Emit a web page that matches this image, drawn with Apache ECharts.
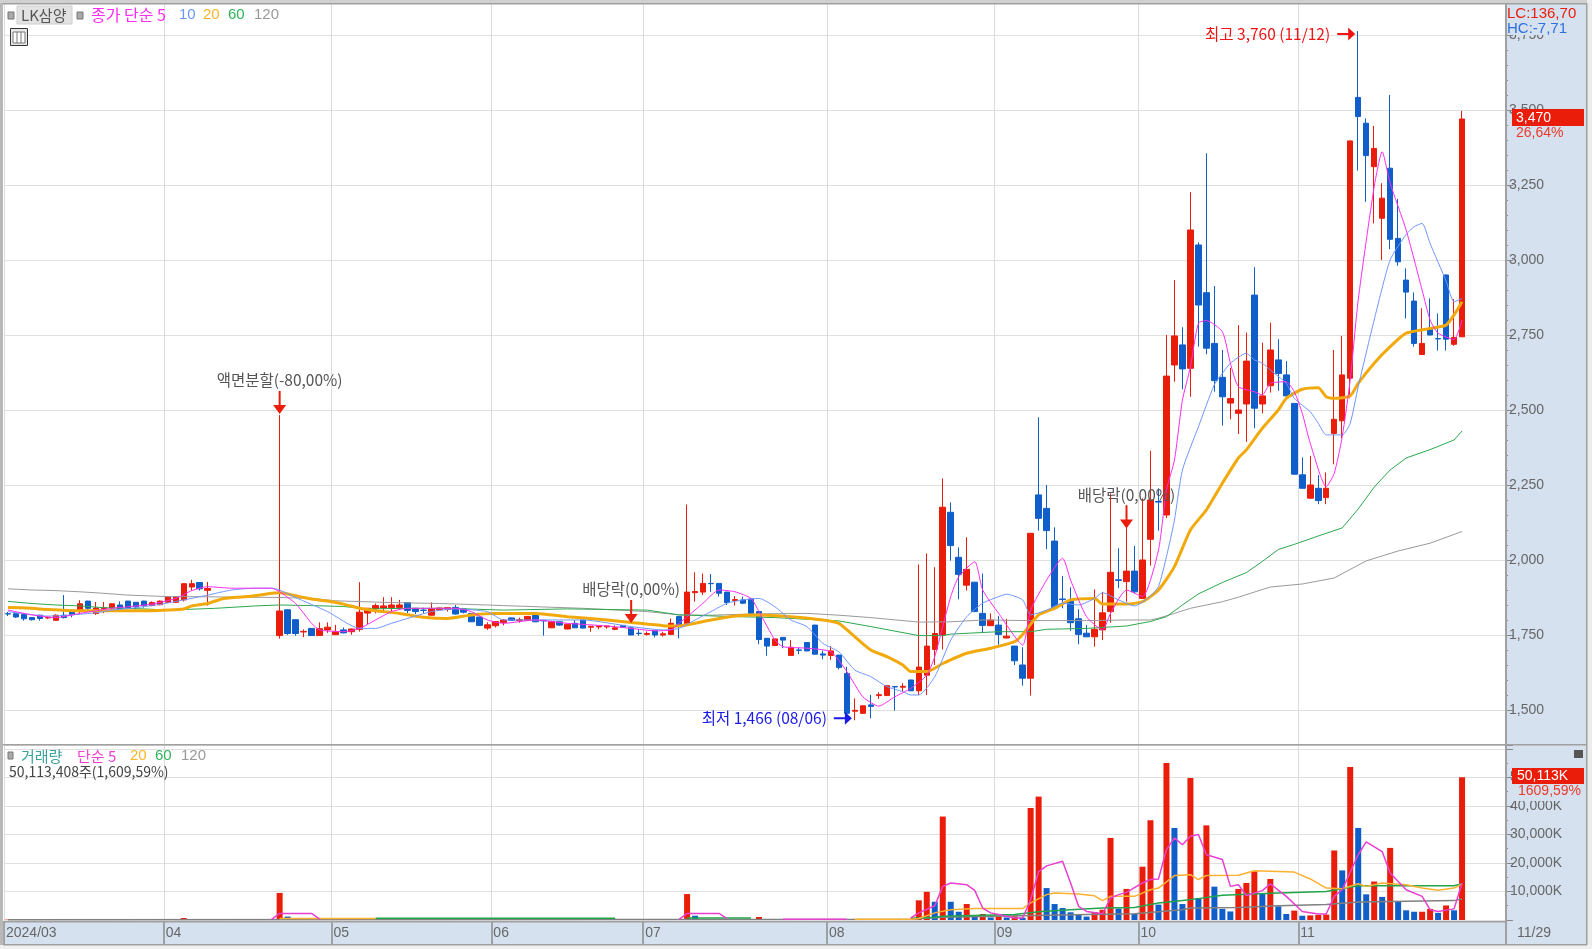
<!DOCTYPE html>
<html>
<head>
<meta charset="utf-8">
<title>LK삼양</title>
<script src="https://cdn.jsdelivr.net/npm/echarts@6/dist/echarts.min.js"></script>
<style>
  html, body { margin: 0; padding: 0; background: #fff; }
  #main { width: 1592px; height: 949px; }
</style>
</head>
<body>
<div id="main"></div>
<script>
// 일봉 [시가, 종가, 저가, 고가] - 2024/03 ~ 11/29, '-' 는 거래정지
const candles = [
  [1821,1820,1813,1827],[1821,1810,1807,1822],[1818,1804,1798,1820],[1808,1801,1798,1809],[1816,1805,1798,1817],
  [1807,1808,1803,1812],[1799,1816,1798,1819],[1816,1808,1805,1883],[1829,1818,1809,1833],[1829,1854,1820,1866],
  [1863,1839,1831,1864],[1822,1840,1817,1860],[1838,1841,1823,1860],[1840,1854,1833,1856],[1850,1837,1835,1862],
  [1863,1839,1837,1864],[1859,1844,1835,1860],[1863,1848,1841,1864],[1848,1858,1846,1862],[1851,1863,1849,1865],
  [1859,1877,1857,1878],[1859,1878,1857,1879],[1867,1921,1862,1922],[1910,1921,1898,1934],[1925,1904,1898,1926],
  [1899,1905,1848,1927],
  '-','-','-','-','-','-','-','-',
  [1748,1830,1738,2483],[1834,1755,1750,1835],[1801,1755,1748,1802],[1760,1762,1743,1769],[1772,1748,1747,1773],
  [1748,1771,1747,1792],[1767,1776,1757,1792],[1751,1762,1750,1784],[1767,1757,1756,1775],[1761,1770,1751,1771],
  [1769,1826,1761,1926],[1823,1839,1786,1840],[1837,1848,1822,1855],[1840,1847,1830,1876],[1841,1850,1827,1876],
  [1842,1850,1833,1867],[1858,1832,1823,1859],[1839,1828,1820,1840],[1833,1832,1823,1841],[1816,1838,1815,1859],
  [1834,1840,1833,1841],[1835,1841,1828,1842],[1842,1820,1818,1850],[1837,1826,1822,1838],[1822,1794,1793,1823],
  [1810,1782,1780,1811],[1773,1784,1767,1792],[1781,1795,1775,1796],
  [1792,1800,1782,1803],[1807,1799,1797,1808],[1798,1801,1791,1808],[1799,1812,1797,1813],[1815,1794,1793,1816],
  [1799,1797,1748,1800],[1774,1794,1773,1795],[1794,1783,1780,1795],[1770,1786,1769,1787],[1789,1774,1773,1799],
  [1800,1773,1772,1801],[1776,1779,1761,1780],[1777,1780,1769,1781],[1777,1780,1771,1781],[1769,1774,1766,1782],
  [1782,1776,1775,1783],[1774,1750,1749,1775],[1756,1755,1748,1770],[1752,1755,1748,1762],[1764,1750,1742,1765],
  [1750,1754,1745,1760],[1752,1789,1750,1805],[1812,1784,1739,1813],[1784,1893,1783,2185],[1891,1895,1861,1959],
  [1893,1922,1883,1955],[1922,1921,1894,1953],[1922,1889,1878,1923],[1893,1858,1850,1894],[1865,1868,1848,1880],
  [1867,1856,1853,1878],[1870,1822,1821,1871],[1828,1735,1719,1829],[1739,1713,1681,1740],[1715,1737,1713,1738],
  [1742,1733,1706,1743],[1682,1709,1681,1733],[1700,1699,1686,1709],[1725,1697,1696,1726],[1783,1686,1685,1784],
  [1687,1683,1669,1698],[1682,1697,1667,1713],[1683,1642,1635,1684],[1622,1489,1488,1644],[1496,1499,1466,1539],
  [1489,1514,1487,1515],[1517,1512,1472,1550],[1548,1551,1537,1559],[1548,1581,1547,1582],[1578,1577,1498,1579],
  [1576,1579,1561,1589],[1600,1564,1563,1601],[1564,1643,1550,1985],[1616,1713,1550,2022],[1702,1755,1650,1976],
  [1750,2176,1702,2272],[2159,2048,1998,2192],[2009,1952,1869,2042],[1916,1969,1898,2076],[1926,1828,1827,1927],
  [1822,1782,1759,1955],[1781,1800,1780,1822],[1783,1752,1717,1813],[1740,1746,1739,1804],[1713,1664,1650,1714],
  [1650,1606,1581,1709],[1606,2089,1548,2090],[2217,2139,2098,2476],[2172,2098,2036,2250],[2063,1841,1840,2109],
  [1870,1868,1839,1947],[1862,1791,1764,1909],[1804,1752,1719,1836],[1756,1744,1743,1783],[1744,1769,1711,1902],
  [1767,1824,1733,1894],[1828,1959,1791,2222],[1934,1932,1906,2039],[1928,1963,1861,2183],[1963,1894,1889,2047],
  [1872,2000,1871,2205],[2069,2200,1981,2364],[2195,2193,2098,2239],[2150,2613,2140,2750],[2650,2747,2594,2933],
  [2717,2637,2569,2776],[2639,3100,2544,3226],[3050,2850,2711,3059],[2891,2706,2686,3356],[2722,2598,2561,2913],
  [2609,2544,2448,2700],[2523,2538,2469,2640],[2489,2500,2420,2783],[2520,2663,2394,2758],[2883,2506,2439,2976],
  [2520,2547,2489,2724],[2581,2700,2558,2791],[2667,2622,2564,2736],[2617,2547,2533,2663],[2522,2286,2285,2523],
  [2284,2239,2238,2342],[2206,2250,2205,2347],[2239,2198,2186,2283],[2208,2239,2186,2292],[2422,2469,2319,2700],
  [2464,2617,2406,2747],[2606,3397,2539,3398],[3542,3478,3298,3763],[3456,3348,3194,3472],[3311,3372,3122,3447],
  [3139,3206,3000,3256],[3306,3069,3036,3550],[3072,2994,2981,3203],[2933,2893,2805,2972],[2863,2722,2711,2892],
  [2685,2722,2684,2839],[2772,2750,2749,2872],[2738,2737,2698,2822],[2950,2736,2698,2951],[2719,2742,2714,2870],
  [2744,3470,2744,3497]
]

// 이동평균 [봉 번호, 값]
const ma5 = [[0,1833],[3,1817],[6,1808],[9,1822],[13,1839],[15,1844],[18,1853],[21,1872],[23,1898],[25,1911],[28,1906],[33,1906],[34,1894],[36,1855],[38,1789],[39,1767],[42,1761],[44,1772],[46,1800],[48,1828],[50,1839],[53,1839],[56,1839],[58,1828],[60,1800],[62,1789],[66,1800],[70,1789],[75,1780],[78,1772],[81,1764],[83,1767],[84,1789],[85,1811],[87,1856],[89,1900],[91,1894],[93,1872],[94,1828],[96,1733],[97,1711],[100,1706],[103,1694],[105,1628],[107,1544],[109,1513],[111,1544],[113,1572],[115,1616],[116,1678],[118,1878],[119,1944],[121,1994],[122,1900],[124,1822],[127,1717],[128,1833],[130,1933],[132,2006],[133,1933],[135,1811],[137,1767],[138,1822],[140,1900],[142,1878],[144,2033],[145,2233],[146,2333],[147,2533],[148,2644],[149,2789],[150,2798],[152,2761],[153,2656],[154,2578],[156,2561],[157,2550],[158,2589],[160,2594],[161,2561],[162,2489],[163,2389],[165,2244],[166,2289],[167,2411],[168,2600],[169,2867],[171,3244],[172,3361],[173,3256],[175,3100],[177,2900],[178,2800],[179,2756],[181,2735],[182,2800]]
const ma10 = [[0,1828],[5,1813],[8,1817],[11,1824],[13,1833],[16,1841],[19,1852],[22,1867],[25,1883],[28,1900],[31,1906],[33,1906],[34,1900],[36,1875],[40,1828],[44,1772],[46,1772],[48,1789],[50,1805],[53,1828],[56,1837],[60,1828],[62,1800],[66,1800],[72,1800],[78,1778],[82,1767],[84,1772],[86,1800],[88,1828],[90,1856],[92,1867],[94,1872],[96,1844],[98,1800],[100,1778],[102,1722],[104,1694],[106,1633],[108,1611],[110,1578],[112,1561],[113,1550],[114,1550],[116,1611],[118,1733],[120,1811],[122,1856],[124,1878],[125,1886],[127,1867],[128,1817],[130,1833],[132,1856],[134,1850],[136,1872],[137,1891],[139,1867],[141,1847],[143,1880],[144,1911],[145,2011],[146,2133],[147,2300],[149,2444],[151,2585],[152,2622],[153,2656],[155,2689],[156,2667],[157,2656],[158,2633],[160,2589],[161,2539],[163,2494],[164,2456],[165,2417],[167,2417],[168,2456],[169,2578],[171,2800],[173,3000],[175,3085],[176,3111],[177,3122],[178,3055],[180,2930],[181,2861],[182,2872]]
const ma20 = [[0,1842],[3,1839],[5,1835],[9,1831],[14,1831],[18,1831],[20,1833],[22,1837],[23,1847],[25,1855],[27,1872],[30,1878],[33,1889],[34,1891],[37,1875],[38,1870],[40,1863],[42,1853],[44,1839],[46,1831],[49,1822],[52,1809],[55,1805],[58,1817],[61,1822],[66,1822],[70,1811],[75,1800],[78,1792],[82,1781],[84,1780],[86,1789],[88,1800],[91,1813],[94,1817],[98,1811],[102,1800],[104,1789],[106,1744],[108,1700],[110,1678],[112,1650],[113,1628],[115,1628],[117,1655],[120,1689],[123,1706],[126,1728],[127,1752],[129,1817],[131,1839],[133,1867],[136,1872],[137,1853],[140,1853],[142,1861],[144,1900],[146,1978],[148,2100],[150,2167],[152,2256],[154,2340],[155,2367],[157,2439],[159,2500],[160,2539],[162,2569],[164,2574],[165,2544],[166,2539],[168,2547],[169,2589],[171,2656],[173,2711],[175,2756],[178,2772],[180,2783],[181,2817],[182,2861]]
const ma60 = [[0,1862],[3,1855],[6,1850],[9,1847],[12,1841],[17,1837],[20,1833],[22,1835],[26,1839],[31,1847],[34,1850],[38,1848],[42,1845],[45,1837],[50,1839],[55,1839],[62,1833],[70,1837],[80,1833],[84,1817],[90,1812],[96,1808],[104,1797],[108,1778],[114,1748],[117,1748],[118,1753],[124,1761],[128,1761],[130,1769],[135,1772],[140,1780],[143,1795],[145,1811],[147,1850],[149,1887],[152,1925],[155,1958],[157,1995],[159,2035],[161,2052],[164,2080],[167,2107],[169,2170],[171,2243],[173,2300],[175,2340],[178,2368],[181,2400],[182,2430]]
const ma120 = [[0,1904],[3,1900],[6,1898],[9,1894],[12,1889],[15,1883],[20,1878],[22,1878],[34,1875],[38,1872],[41,1864],[48,1858],[54,1855],[60,1850],[62,1848],[72,1839],[80,1828],[84,1817],[88,1816],[93,1820],[100,1822],[104,1816],[108,1808],[114,1793],[118,1794],[122,1800],[128,1798],[135,1798],[140,1800],[143,1800],[144,1806],[146,1822],[148,1839],[150,1850],[152,1861],[154,1876],[158,1910],[162,1920],[166,1940],[170,1997],[174,2030],[178,2056],[182,2095]]

// 거래량 (단위 K)
const volumes = [
  150,200,200,150,200,150,250,200,200,300,200,250,200,200,150,200,150,200,150,200,200,200,700,300,200,250,
  null,null,null,null,null,null,null,null,
  9500,1200,300,250,300,250,200,300,200,250,
  350,300,250,200,250,200,200,250,200,250,
  200,150,200,200,250,200,200,250,200,200,
  150,250,200,150,200,250,200,200,150,150,
  200,150,250,200,150,200,200,300,350,300,250,
  9100,1500,350,300,300,250,300,300,250,
  1050,350,350,350,350,
  200,250,200,200,250,200,300,250,300,250,300,250,300,250,300,
  6900,9900,6400,36300,6400,2900,5600,1050,2100,900,
  1300,900,1300,800,39300,43300,11200,5600,4200,2700,
  1900,1200,2800,3600,28800,4000,10900,2200,18700,35000,
  5400,55100,32300,5600,49800,7700,33200,11700,3900,3000,
  10900,13000,17100,9200,14400,4800,2100,3300,1500,1600,
  1750,1900,24400,17400,53700,32300,9000,13500,8100,25300,
  6500,3400,2900,2900,3900,2500,5100,3400,50113
]
const vma5 = [[33,200],[34,2300],[38,2300],[39,300],[40,null],[83,null],[84,200],[85,2300],[89,2300],[90,500],[91,null],[96,null],[97,300],[105,300],[106,null],[112,null],[113,700],[114,2500],[116,5000],[117,11800],[118,13000],[120,12400],[121,10400],[122,4200],[123,2500],[124,1900],[126,700],[127,700],[128,7100],[129,17000],[130,19000],[132,20600],[133,13000],[134,4800],[135,3000],[137,2200],[138,7700],[139,8900],[140,9700],[142,13000],[143,14200],[144,14400],[145,24700],[146,28800],[147,26400],[148,29400],[149,30000],[150,22900],[152,21200],[153,11800],[154,12400],[155,8600],[157,10300],[158,12700],[160,8300],[162,3000],[164,2100],[165,2100],[166,8300],[167,10600],[169,22900],[170,27400],[172,24000],[173,16500],[175,10600],[177,8300],[178,3600],[179,3000],[181,3900],[182,13000]]
const vma20 = [[34,500],[46,500],[47,null],[105,null],[106,300],[113,300],[114,500],[116,2500],[118,3600],[121,4000],[127,4000],[128,6000],[130,8900],[131,9500],[134,9100],[136,8500],[137,6800],[138,8300],[141,8300],[143,10600],[144,11200],[146,15600],[148,15900],[149,14200],[150,15600],[154,15700],[156,17300],[159,17000],[161,16800],[163,14400],[165,11200],[167,11000],[169,12700],[170,11800],[172,13000],[175,12400],[177,11200],[179,10400],[181,11200],[182,12700]]
const vma60 = [[46,600],[76,600],[77,null],[84,null],[85,700],[93,700],[94,null],[112,null],[113,600],[116,1000],[117,1300],[126,1900],[129,2900],[133,3600],[137,4200],[141,4400],[144,6000],[147,6800],[149,7500],[152,8700],[159,9500],[165,10000],[169,12000],[181,12000],[182,12700]]
const vma120 = [[0,100],[113,300],[117,1000],[135,1900],[141,2200],[147,3600],[148,4200],[154,4400],[159,5000],[165,5400],[169,6300],[181,6800],[182,7400]]

// 날짜축 눈금 (월 시작 봉)
const monthIndex = [0, 20, 41, 61, 80, 103, 124, 142, 162]
const monthLabels = ['2024/03', '04', '05', '06', '07', '08', '09', '10', '11']
const slotCount = 188
const categories = []
for (let i = 0; i < slotCount; i++) categories.push(String(i))

const priceTicks = { min: 1500, max: 3750, step: 250 }
const volumeTicks = { max: 61400, step: 10000 }

const RED = '#ea1c0a'
const BLUE = '#0f5ec9'
const PANE = '#d6e1ef'
const GRID = '#e0e0e0'
const EDGE = '#a0a0a0'
const KR = '"Noto Sans CJK KR", sans-serif'
const LATIN = '"Liberation Sans", sans-serif'
const LEFT = 4
const PLOT_W = 1502

function txt (x, y, text, fill, size, extra) {
  return {
    type: 'text',
    z: 100,
    x: x,
    y: y,
    style: Object.assign({ text: text, fill: fill, font: (size || 15) + 'px ' + KR, textVerticalAlign: 'middle' }, extra)
  }
}
function box (x, y, w, h, fill, z, stroke) {
  return {
    type: 'rect',
    z: z === undefined ? -1 : z,
    shape: { x: x, y: y, width: w, height: h },
    style: { fill: fill, stroke: stroke || 'none', lineWidth: stroke ? 1 : 0 }
  }
}

// 범례, 값 표시, 테두리
const decor = [
  box(0, 0, 1592, 3, '#d0d0d0'),
  box(1587, 0, 5, 949, '#ececec'),
  box(0, 945, 1592, 4, '#f0f0f0'),
  box(1506, 4, 81, 941, PANE),
  box(4, 922, 1502, 23, PANE),
  box(0, 3, 3, 942, '#b8b8b8', 50),
  box(3, 3, 1584, 1.5, EDGE, 50),
  box(3, 744, 1584, 1.5, EDGE, 50),
  box(3, 921, 1503, 1.5, EDGE, 50),
  box(3, 944, 1584, 1.5, EDGE, 50),
  box(1586, 3, 1.5, 942, EDGE, 50),
  box(1505, 3, 2, 942, EDGE, 50),

  box(8, 12, 6, 7, '#aaa', 100, '#777'),
  box(17, 6, 55, 18, '#e2e2e2', 99, '#cfcfcf'),
  txt(21, 15, 'LK삼양', '#555', 15),
  box(77, 12, 6, 7, '#aaa', 100, '#777'),
  txt(91, 15, '종가 단순 5', '#ff2bf2', 16),
  txt(179, 15, '10', '#6a97ff', 15, { font: '15px ' + LATIN }),
  txt(203, 15, '20', '#ffb52b', 15, { font: '15px ' + LATIN }),
  txt(228, 15, '60', '#2fb45a', 15, { font: '15px ' + LATIN }),
  txt(254, 15, '120', '#999', 15, { font: '15px ' + LATIN }),
  box(10.5, 28.5, 17, 17, '#e8e8e8', 100, '#333'),
  box(13, 32, 12, 11, '#fff', 101, '#777'),
  box(16.5, 32, 1, 11, '#777', 102),
  box(20.5, 32, 1, 11, '#777', 102),

  box(8, 752, 5, 7, '#aaa', 100, '#777'),
  txt(21, 756, '거래량', '#3aa39b', 15),
  txt(77, 756, '단순 5', '#f03fd6', 15),
  txt(130, 756, '20', '#ffb52b', 15, { font: '15px ' + LATIN }),
  txt(155, 756, '60', '#2fb45a', 15, { font: '15px ' + LATIN }),
  txt(181, 756, '120', '#999', 15, { font: '15px ' + LATIN }),
  txt(9, 772, '50,113,408주(1,609,59%)', '#444', 14),

  box(1508, 5, 77, 30, PANE, 90),
  txt(1507, 14, 'LC:136,70', RED, 15, { font: '15px ' + LATIN }),
  txt(1507, 29, 'HC:-7,71', '#2f6fe0', 15, { font: '15px ' + LATIN }),
  box(1512, 109, 72, 17, RED, 95),
  txt(1516, 118, '3,470', '#fff', 14, { font: '14px ' + LATIN }),
  txt(1516, 133, '26,64%', '#ea3a2a', 14, { font: '14px ' + LATIN }),

  box(1574, 750, 9, 8, '#555', 100),
  box(1512, 768, 72, 16, RED, 95),
  box(1508, 784, 77, 17, PANE, 90),
  txt(1517, 776, '50,113K', '#fff', 14, { font: '14px ' + LATIN }),
  txt(1518, 791, '1609,59%', '#ea3a2a', 14, { font: '14px ' + LATIN }),
  txt(1517, 933, '11/29', '#666', 14, { font: '14px ' + LATIN })
]

const PIN_DOWN = 'path://M5.5,0 H7.5 V14 H13 L6.5,23 L0,14 H5.5 Z'
const ARROW_RIGHT = 'path://M0,5.5 H11 V0 L18,6.5 L11,13 V7.5 H0 Z'

function note (i, price, text, color, symbol, size, labelPos, offset) {
  return {
    coord: [categories[i], price],
    symbol: symbol,
    symbolSize: size,
    symbolOffset: offset,
    itemStyle: { color: color },
    label: {
      show: true,
      formatter: text,
      position: labelPos,
      distance: labelPos === 'left' ? 7 : 3,
      color: labelPos === 'left' ? color : '#555',
      fontFamily: KR,
      fontSize: 15.5
    }
  }
}

function maLine (name, data, color, width, x, y, smooth) {
  return {
    name: name,
    type: 'line',
    data: data,
    xAxisIndex: x,
    yAxisIndex: y,
    symbol: 'none',
    smooth: smooth,
    silent: true,
    lineStyle: { color: color, width: width },
    z: 5
  }
}

const monthGrid = {
  show: true,
  interval: function (i) { return monthIndex.indexOf(i) > -1 },
  lineStyle: { color: '#dcdcdc', width: 1 }
}

let myChart = echarts.init(document.getElementById('main'), null, { renderer: 'canvas' })
myChart.setOption({
  animation: false,
  backgroundColor: '#fff',
  graphic: { elements: decor },
  grid: [
    { left: LEFT, width: PLOT_W, top: 4, height: 741 },
    { left: LEFT, width: PLOT_W, top: 745, height: 175 },
    { left: LEFT, width: PLOT_W, top: 35, height: 675 },
    { left: LEFT, width: PLOT_W, top: 921, height: 24 }
  ],
  xAxis: [
    { type: 'category', gridIndex: 0, data: categories, boundaryGap: true, axisLine: { show: false }, axisTick: { show: false }, axisLabel: { show: false }, splitLine: monthGrid },
    { type: 'category', gridIndex: 1, data: categories, boundaryGap: true, axisLine: { show: false }, axisTick: { show: false }, axisLabel: { show: false }, splitLine: monthGrid },
    { type: 'value', gridIndex: 2, min: 0, max: slotCount, show: false },
    {
      type: 'value',
      gridIndex: 3,
      min: 0,
      max: slotCount,
      position: 'bottom',
      splitLine: { show: false },
      axisLine: { show: false },
      axisTick: { show: true, inside: true, length: 24, customValues: monthIndex, lineStyle: { color: '#8c8c8c', width: 1.5 } },
      axisLabel: {
        inside: true,
        customValues: monthIndex,
        align: 'left',
        margin: 5,
        padding: [0, 0, 0, 2],
        color: '#666',
        fontSize: 14,
        fontFamily: LATIN,
        formatter: function (v) { return monthLabels[monthIndex.indexOf(v)] }
      }
    }
  ],
  yAxis: [
    { type: 'value', gridIndex: 0, show: false, min: 1383.33, max: 3853.33, splitLine: { show: false } },
    {
      type: 'value',
      gridIndex: 1,
      position: 'right',
      min: 0,
      max: volumeTicks.max,
      interval: volumeTicks.step,
      axisLine: { show: true, onZero: false, lineStyle: { color: EDGE, width: 2 } },
      axisTick: { show: true, length: 7, lineStyle: { color: '#888' } },
      minorTick: { show: true, splitNumber: 2, length: 2, lineStyle: { color: '#888' } },
      splitLine: { show: true, lineStyle: { color: GRID, width: 1 } },
      axisLabel: {
        showMinLabel: false,
        margin: 4,
        color: '#666',
        fontSize: 14,
        fontFamily: LATIN,
        formatter: function (v) { return v > 50000 ? '' : v.toLocaleString('en-US') + 'K' }
      }
    },
    {
      type: 'value',
      gridIndex: 2,
      position: 'right',
      min: priceTicks.min,
      max: priceTicks.max,
      interval: priceTicks.step,
      axisLine: { show: true, onZero: false, lineStyle: { color: EDGE, width: 2 } },
      axisTick: { show: true, length: 7, lineStyle: { color: '#888' } },
      minorTick: { show: true, splitNumber: 5, length: 2, lineStyle: { color: '#888' } },
      splitLine: { show: true, lineStyle: { color: GRID, width: 1 } },
      axisLabel: {
        margin: 3,
        color: '#666',
        fontSize: 14,
        fontFamily: LATIN,
        formatter: function (v) { return v.toLocaleString('en-US') }
      }
    },
    { type: 'value', gridIndex: 3, show: false, min: 0, max: 1 }
  ],
  series: [
    {
      name: 'LK삼양',
      type: 'candlestick',
      data: candles,
      xAxisIndex: 0,
      yAxisIndex: 0,
      barWidth: 6,
      z: 3,
      itemStyle: { color: RED, color0: BLUE, borderColor: RED, borderColor0: BLUE, borderWidth: 1 },
      markPoint: {
        silent: true,
        z: 20,
        data: [
          note(34, 2525, '액면분할(-80,00%)', RED, PIN_DOWN, [13, 23], 'top'),
          note(78, 1828, '배당락(0,00%)', RED, PIN_DOWN, [13, 23], 'top'),
          note(140, 2143, '배당락(0,00%)', RED, PIN_DOWN, [13, 23], 'top'),
          note(169, 3760, '최고 3,760 (11/12)', '#f01414', ARROW_RIGHT, [18, 13], 'left', [-12, 2]),
          note(106, 1466, '최저 1,466 (08/06)', '#1a1ae6', ARROW_RIGHT, [18, 13], 'left', [-12, -2])
        ]
      }
    },
    maLine('120', ma120, '#9a9a9a', 1, 0, 0, false),
    maLine('60', ma60, '#2ea84e', 1, 0, 0, false),
    maLine('20', ma20, '#f2a90c', 3, 0, 0, 0.2),
    maLine('10', ma10, '#6f97ff', 1, 0, 0, 0.2),
    maLine('5', ma5, '#ff2bf2', 1, 0, 0, 0.2),
    {
      name: '거래량',
      type: 'bar',
      data: volumes,
      xAxisIndex: 1,
      yAxisIndex: 1,
      barWidth: 6,
      z: 3,
      silent: true,
      itemStyle: {
        color: function (p) {
          return p.dataIndex > 0 && volumes[p.dataIndex] < volumes[p.dataIndex - 1] ? BLUE : RED
        }
      }
    },
    maLine('v120', vma120, '#808080', 1.5, 1, 1, false),
    maLine('v60', vma60, '#1fa54a', 1.5, 1, 1, false),
    maLine('v20', vma20, '#fcb130', 1.5, 1, 1, false),
    maLine('v5', vma5, '#e83fd0', 1.5, 1, 1, false)
  ]
})
</script>
</body>
</html>
